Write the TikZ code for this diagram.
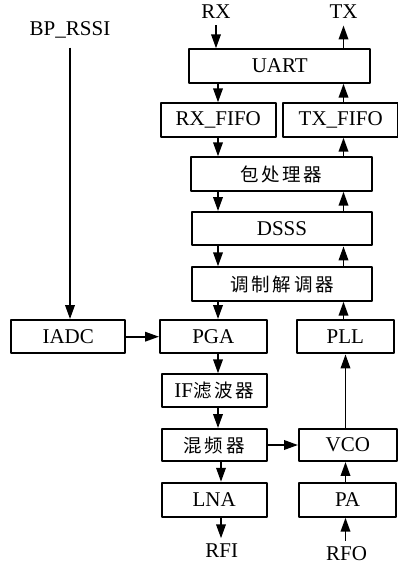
\documentclass[tikz,border=0pt]{standalone}
\usepackage{fontspec}
\setmainfont{Liberation Serif}
\newfontfamily\cjk[LetterSpace=15]{Noto Sans CJK SC}
\usetikzlibrary{arrows.meta}
\newcommand{\zh}[1]{{\cjk\fontsize{18.5}{22}\selectfont #1}}
\begin{document}
\begin{tikzpicture}[x=1pt,y=-1pt,font=\fontsize{21}{25}\selectfont, line join=round, >={Triangle[length=14pt,width=9.5pt]}, line width=1.9pt,
	blk/.style={draw, inner sep=0pt, minimum height=33.4pt},
	lbl/.style={inner sep=1pt, anchor=base}] %Sơ đồ khối thu phát
	\useasboundingbox (0,0) rectangle (397,565);
	\coordinate (lc) at (218,0);
	\coordinate (lc2) at (221,0);
	\coordinate (rc) at (343.5,0);
	\coordinate (rc2) at (345.5,0);
	% khối
	\node[blk, minimum width=180.7pt] (uart) at (279.7,66) {UART};
	\node[blk, minimum width=114.7pt] (rxfifo) at (218.3,120) {RX\_FIFO};
	\node[blk, minimum width=114.7pt] (txfifo) at (340.7,120) {TX\_FIFO};
	\node[blk, minimum width=180.7pt] (pkt) at (281.3,174) {\zh{包处理器}};
	\node[blk, minimum width=180.7pt] (dsss) at (282,228.7) {DSSS};
	\node[blk, minimum width=180.7pt] (modem) at (282,284) {\zh{调制解调器}};
	\node[blk, minimum width=114.3pt] (iadc) at (68.2,336.7) {IADC};
	\node[blk, minimum width=106.7pt] (pga) at (213.3,336.7) {PGA};
	\node[blk, minimum width=97.3pt] (pll) at (345.3,336.7) {PLL};
	\node[blk, minimum width=105pt, minimum height=32.4pt] (iff) at (214.2,390.5) {IF\zh{滤波器}};
	\node[blk, minimum width=105pt, minimum height=32pt] (mixer) at (214.2,445) {\zh{混频器}};
	\node[blk, minimum width=97.7pt, minimum height=32pt] (vco) at (347.8,445) {VCO};
	\node[blk, minimum width=105pt, minimum height=34pt] (lna) at (214.2,499.7) {LNA};
	\node[blk, minimum width=97pt, minimum height=34pt] (pa) at (347.5,499.7) {PA};
	% nhãn
	\node[lbl] (rx) at (216,18.5) {RX};
	\node[lbl] (tx) at (343.5,18.5) {TX};
	\node[lbl] (bprssi) at (70,35) {BP\_RSSI};
	\node[lbl] (rfi) at (221.7,557) {RFI};
	\node[lbl] (rfo) at (346.5,560.5) {RFO};
	% đường thu
	\draw[->, shorten <=5pt] (rx.south) -- (uart.north -| rx);
	\draw[->] (uart.south -| lc) -- (rxfifo.north -| lc);
	\draw[->] (rxfifo.south -| lc) -- (pkt.north -| lc);
	\draw[->] (pkt.south -| lc) -- (dsss.north -| lc);
	\draw[->] (dsss.south -| lc) -- (modem.north -| lc);
	\draw[->] (modem.south -| lc) -- (pga.north -| lc);
	\draw[->] (pga.south -| lc) -- (iff.north -| lc);
	\draw[->] (iff.south -| lc) -- (mixer.north -| lc);
	\draw[->] (mixer.south -| lc2) -- (lna.north -| lc2);
	\draw[->, shorten >=3pt] (lna.south -| lc2) -- (rfi.north -| lc2);
	% đường phát
	\draw[->, shorten <=4pt] (rfo.north -| rc2) -- (pa.south -| rc2);
	\draw[->] (pa.north -| rc2) -- (vco.south -| rc2);
	\draw[->] (vco.north -| rc2) -- (pll.south -| rc2);
	\draw[->] (pll.north -| rc) -- (modem.south -| rc);
	\draw[->] (modem.north -| rc) -- (dsss.south -| rc);
	\draw[->] (dsss.north -| rc) -- (pkt.south -| rc);
	\draw[->] (pkt.north -| rc) -- (txfifo.south -| rc);
	\draw[->] (txfifo.north -| rc) -- (uart.south -| rc);
	\draw[->, shorten >=5pt] (uart.north -| rc) -- (tx.south);
	% ngang
	\draw[->, shorten <=8pt] (bprssi.south) -- (bprssi.south |- iadc.north);
	\draw[->] (iadc.east) -- (pga.west);
	\draw[->] (mixer.east) -- (vco.west);
\end{tikzpicture}
\end{document}
